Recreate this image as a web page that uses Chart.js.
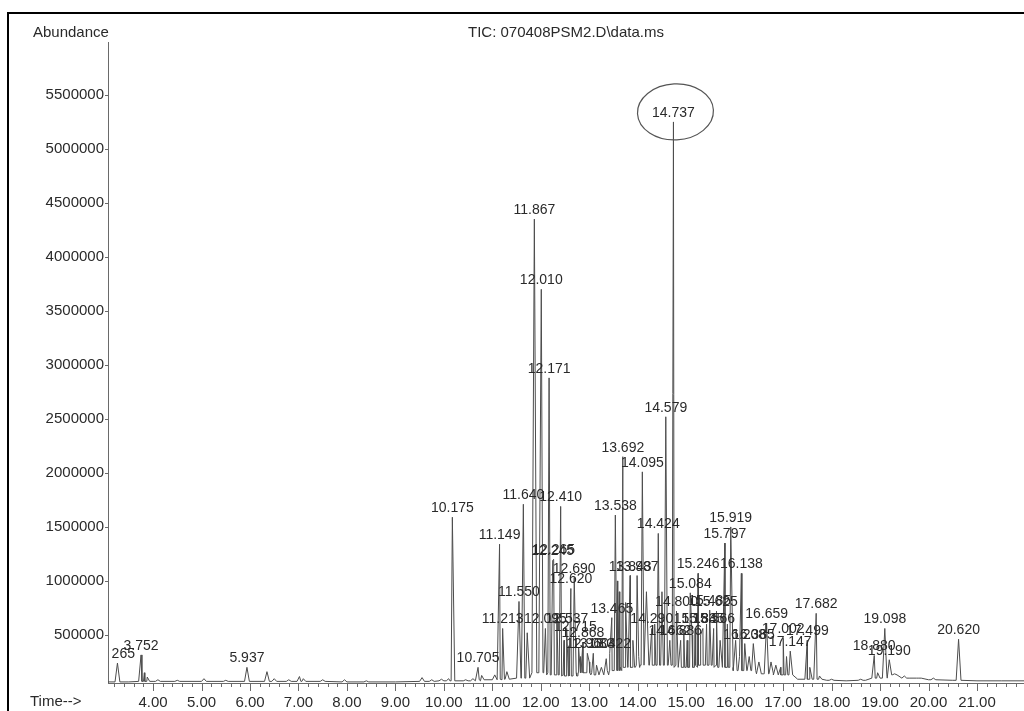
<!DOCTYPE html>
<html>
<head>
<meta charset="utf-8">
<title>TIC: 070408PSM2.D\data.ms</title>
<script src="https://cdn.jsdelivr.net/npm/chart.js@4.4.1/dist/chart.umd.min.js"></script>
<style>
  html, body { margin: 0; padding: 0; background: #fff; }
  canvas { display: block; }
</style>
</head>
<body>
<canvas id="tic" width="1024" height="711"></canvas>
<script>
// Labelled peaks: retention time (min) and apex abundance
const peakTimes = [
  3.265, 3.752, 5.937, 10.175, 10.705, 11.149, 11.213, 11.550, 11.640, 11.867,
  12.010, 12.095, 12.171, 12.245, 12.265, 12.410, 12.537, 12.620, 12.690, 12.715,
  12.868, 12.960, 13.083, 13.422, 13.465, 13.538, 13.692, 13.843, 13.987, 14.095,
  14.290, 14.424, 14.579, 14.662, 14.737, 14.800, 14.886, 15.084, 15.183, 15.246,
  15.345, 15.485, 15.566, 15.625, 15.797, 15.919, 16.138, 16.208, 16.385, 16.659,
  17.002, 17.147, 17.499, 17.682, 18.880, 19.098, 19.190, 20.620
];
const peakHeights = [
  240000, 315000, 200000, 1590000, 200000, 1340000, 560000, 810000, 1710000, 4350000,
  3700000, 560000, 2880000, 1190000, 1200000, 1690000, 560000, 930000, 1030000, 490000,
  430000, 330000, 330000, 330000, 660000, 1610000, 2150000, 1050000, 1050000, 2010000,
  560000, 1440000, 2520000, 450000, 5250000, 720000, 450000, 890000, 560000, 1070000,
  560000, 730000, 560000, 720000, 1350000, 1500000, 1070000, 420000, 420000, 610000,
  470000, 350000, 450000, 700000, 310000, 560000, 270000, 460000
];

// Smaller unlabelled peaks
const minorTimes = [
  3.82, 3.88, 4.10, 4.50, 5.05, 5.50, 6.35, 6.50, 6.80, 7.02, 7.10, 7.50, 7.95, 8.40,
  9.55, 9.75, 9.95, 10.10, 10.45, 10.60, 10.78, 11.05, 11.30, 11.72, 12.33, 12.48,
  12.58, 12.78, 12.82, 13.00, 13.15, 13.25, 13.35, 13.58, 13.62, 13.75, 13.90, 14.02,
  14.18, 14.35, 14.50, 14.95, 15.02, 15.12, 15.30, 15.42, 15.70, 15.85, 16.02, 16.10,
  16.30, 16.50, 16.75, 16.85, 16.95, 17.07, 17.55, 17.75, 18.00, 18.60, 18.95, 19.30,
  19.50, 19.80, 20.10
];
const minorHeights = [
  150000, 110000, 85000, 80000, 95000, 80000, 160000, 95000, 85000, 115000, 95000, 85000, 85000, 75000,
  105000, 85000, 90000, 95000, 85000, 95000, 125000, 130000, 160000, 520000, 700000, 450000,
  400000, 380000, 300000, 250000, 220000, 200000, 280000, 1000000, 900000, 800000, 450000, 300000,
  900000, 600000, 900000, 550000, 450000, 500000, 500000, 600000, 450000, 600000, 450000, 300000,
  300000, 250000, 250000, 220000, 200000, 300000, 200000, 120000, 90000, 90000, 150000, 140000,
  120000, 100000, 100000
];

// Background level under the peaks
const baseTimes = [
  3.07, 3.5, 4.0, 5.0, 6.0, 7.0, 8.0, 9.0, 9.5, 10.0, 10.5, 11.0, 11.3, 11.5, 11.7,
  12.0, 12.3, 12.6, 12.9, 13.2, 13.5, 13.8, 14.2, 14.6, 15.0, 15.4, 15.8, 16.2, 16.6,
  17.0, 17.3, 17.6, 17.9, 18.3, 18.7, 19.0, 19.3, 19.6, 20.0, 20.5, 21.0, 21.5, 21.97
];
const baseLevels = [
  65000, 65000, 70000, 70000, 70000, 70000, 65000, 65000, 70000, 75000, 75000, 85000, 90000, 100000, 100000,
  150000, 130000, 120000, 150000, 130000, 170000, 200000, 220000, 220000, 200000, 220000, 200000, 170000, 140000,
  130000, 90000, 90000, 80000, 75000, 80000, 100000, 130000, 100000, 85000, 80000, 75000, 75000, 75000
];

const yTickValues = [500000, 1000000, 1500000, 2000000, 2500000, 3000000,
  3500000, 4000000, 4500000, 5000000, 5500000];
const xLabelTimes = [4, 5, 6, 7, 8, 9, 10, 11, 12, 13, 14, 15, 16, 17, 18, 19, 20, 21];

const TIME_MIN = 3.07, TIME_MAX = 21.97;
const ABUND_MIN = 55000, ABUND_MAX = 5990000;
const HALF_WIDTH = 0.05;           // half base width of a peak, minutes
const FONT = '"Liberation Sans", Arial, sans-serif';

// nearest background reading for a peak foot
function footLevel(t) {
  let best = 0;
  baseTimes.forEach((bt, i) => {
    if (Math.abs(bt - t) < Math.abs(baseTimes[best] - t)) best = i;
  });
  return baseLevels[best];
}

// Build the TIC trace: background readings plus a spike for every peak
const allPeaks = peakTimes.map((t, i) => [t, peakHeights[i]])
  .concat(minorTimes.map((t, i) => [t, minorHeights[i]]));
const trace = [];
baseTimes.forEach((t, i) => {
  if (!allPeaks.some(p => Math.abs(p[0] - t) < HALF_WIDTH)) trace.push({ x: t, y: baseLevels[i] });
});
allPeaks.forEach(([t, h]) => {
  const f = footLevel(t);
  trace.push({ x: t - HALF_WIDTH, y: f }, { x: t, y: h }, { x: t + HALF_WIDTH, y: f });
});
trace.sort((a, b) => a.x - b.x);

// Frame, header texts, tick marks, peak labels
const decorPlugin = {
  id: 'ticDecor',
  afterDraw(chart) {
    const { ctx, chartArea: area, scales: { x, y } } = chart;
    ctx.save();

    // tick marks
    ctx.strokeStyle = '#6a6a6a';
    ctx.lineWidth = 1;
    ctx.beginPath();
    yTickValues.forEach(v => {
      const py = Math.round(y.getPixelForValue(v)) + 0.5;
      ctx.moveTo(area.left - 3, py);
      ctx.lineTo(area.left, py);
    });
    for (let i = Math.ceil(TIME_MIN * 5); i <= Math.floor(TIME_MAX * 5); i++) {
      const px = Math.round(x.getPixelForValue(i / 5)) + 0.5;
      const len = i % 5 === 0 ? 8 : 4;
      ctx.moveTo(px, area.bottom);
      ctx.lineTo(px, area.bottom + len);
    }
    ctx.stroke();

    // header and axis captions
    ctx.fillStyle = '#2a2a2a';
    ctx.font = '15px ' + FONT;
    ctx.textBaseline = 'middle';
    ctx.textAlign = 'left';
    ctx.fillText('Abundance', 33, 33);
    ctx.fillText('TIC: 070408PSM2.D\\data.ms', 468, 33);
    ctx.fillText('Time-->', 30, 702);

    // peak retention time labels, kept inside the plot
    ctx.save();
    ctx.beginPath();
    ctx.rect(area.left + 3, 0, area.right - area.left, area.bottom);
    ctx.clip();
    ctx.font = '14px ' + FONT;
    ctx.textAlign = 'center';
    ctx.textBaseline = 'alphabetic';
    peakTimes.forEach((t, i) => {
      const px = x.getPixelForValue(t);
      const py = y.getPixelForValue(peakHeights[i]);
      ctx.fillText(t.toFixed(3), px, py - 5);
    });
    ctx.restore();

    // ring round the main peak label
    const top = peakHeights.indexOf(Math.max(...peakHeights));
    const cx = x.getPixelForValue(peakTimes[top]) + 2;
    const cy = y.getPixelForValue(peakHeights[top]) - 10;
    ctx.strokeStyle = '#555';
    ctx.lineWidth = 1.2;
    ctx.beginPath();
    ctx.ellipse(cx, cy, 38, 28, -0.05, 0, Math.PI * 2);
    ctx.stroke();

    // outer frame
    ctx.strokeStyle = '#000';
    ctx.lineWidth = 2;
    ctx.beginPath();
    ctx.moveTo(8, 711);
    ctx.lineTo(8, 13);
    ctx.lineTo(1024, 13);
    ctx.stroke();

    ctx.restore();
  }
};

new Chart(document.getElementById('tic'), {
  type: 'line',
  data: {
    datasets: [{
      data: trace,
      borderColor: '#4d4d4d',
      borderWidth: 1,
      pointRadius: 0,
      tension: 0,
      fill: false
    }]
  },
  options: {
    responsive: false,
    animation: false,
    devicePixelRatio: 1,
    layout: { padding: { top: 42, left: 0, right: 0, bottom: 0 } },
    plugins: { legend: { display: false }, tooltip: { enabled: false } },
    scales: {
      x: {
        type: 'linear',
        min: TIME_MIN,
        max: TIME_MAX,
        afterFit: s => { s.height = 28; },
        afterBuildTicks: s => { s.ticks = xLabelTimes.map(v => ({ value: v })); },
        grid: { display: false, drawTicks: false },
        border: { color: '#6a6a6a', width: 1 },
        ticks: {
          autoSkip: false,
          maxRotation: 0,
          padding: 11,
          color: '#2a2a2a',
          font: { family: FONT, size: 15 },
          callback: v => Number(v).toFixed(2)
        }
      },
      y: {
        min: ABUND_MIN,
        max: ABUND_MAX,
        afterFit: s => { s.width = 108; },
        afterBuildTicks: s => { s.ticks = yTickValues.map(v => ({ value: v })); },
        grid: { display: false, drawTicks: false },
        border: { color: '#6a6a6a', width: 1 },
        ticks: {
          autoSkip: false,
          padding: 4,
          color: '#2a2a2a',
          font: { family: FONT, size: 15 },
          callback: v => String(v)
        }
      }
    }
  },
  plugins: [decorPlugin]
});
</script>
</body>
</html>
